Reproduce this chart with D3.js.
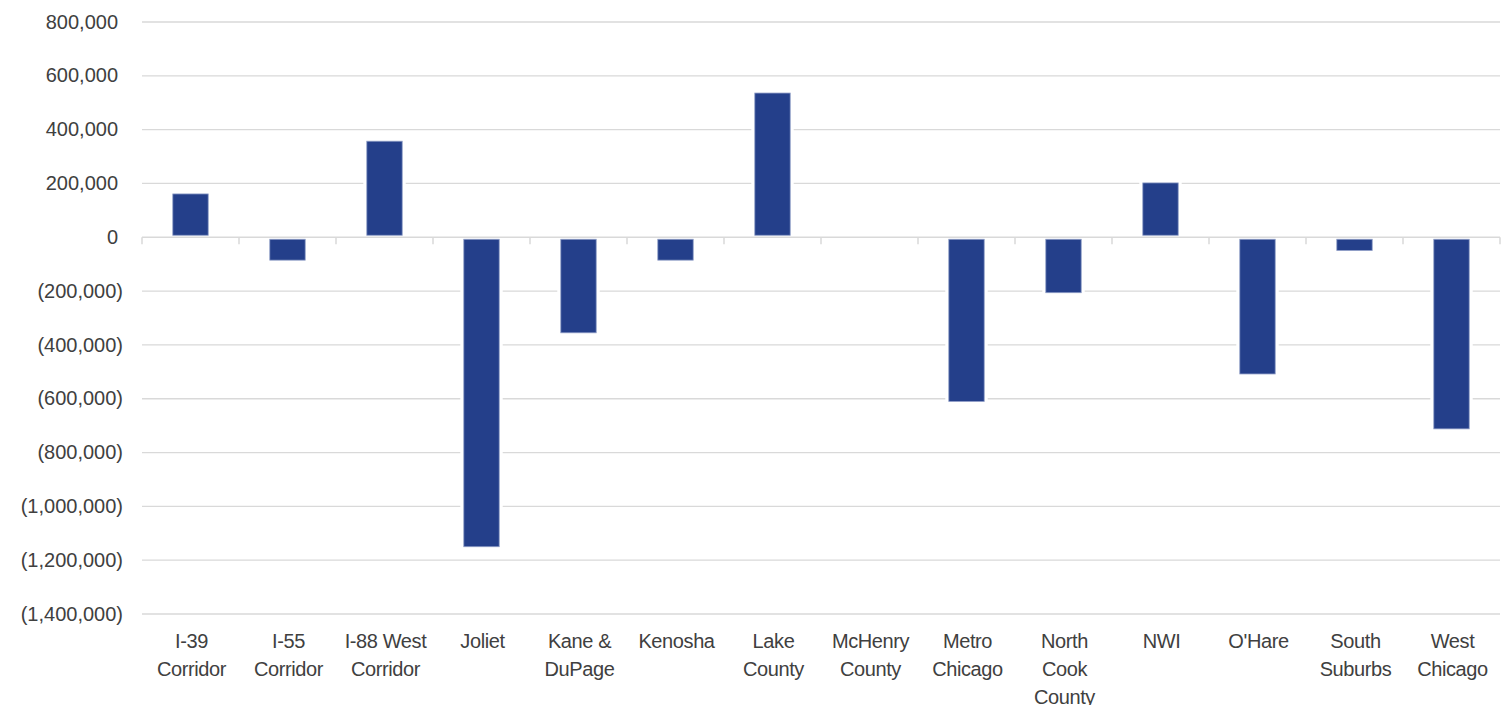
<!DOCTYPE html>
<html>
<head>
<meta charset="utf-8">
<script src="https://cdn.jsdelivr.net/npm/d3@7"></script>
<style>
  html, body { margin: 0; padding: 0; background: #fff; }
  svg { display: block; }
  text { font-family: "Liberation Sans", Arial, sans-serif; fill: #404040; }
</style>
</head>
<body>
<svg id="chart" width="1511" height="705"></svg>
<script>
// Net change by submarket
const categories = [
  "I-39 Corridor", "I-55 Corridor", "I-88 West Corridor", "Joliet",
  "Kane & DuPage", "Kenosha", "Lake County", "McHenry County",
  "Metro Chicago", "North Cook County", "NWI", "O'Hare",
  "South Suburbs", "West Chicago"
];
const values = [
  161000, -85000, 357000, -1150000,
  -355000, -85000, 536000, 0,
  -610000, -206000, 202000, -508000,
  -49000, -712000
];
const yTicks = [800000, 600000, 400000, 200000, 0, -200000, -400000,
  -600000, -800000, -1000000, -1200000, -1400000];

const svg = d3.select("#chart");
const margin = { left: 142, right: 11, top: 22, bottom: 91 };
const W = 1511, H = 705;

const x = d3.scaleBand()
  .domain(categories)
  .range([margin.left, W - margin.right])
  .paddingInner(0).paddingOuter(0);

const y = d3.scaleLinear()
  .domain([-1400000, 800000])
  .range([H - margin.bottom, margin.top]);

const barW = x.bandwidth() * 0.365;
const gridColor = "#d9d9d9";
const barColor = "#243f8a";

const fmt = d3.format(",");
const yLabel = v => v < 0 ? "(" + fmt(-v) + ")" : fmt(v);

// horizontal gridlines
svg.append("g")
  .selectAll("line")
  .data(yTicks.filter(v => v !== 0))
  .join("line")
  .attr("x1", margin.left).attr("x2", W - margin.right)
  .attr("y1", d => y(d)).attr("y2", d => y(d))
  .attr("stroke", gridColor).attr("stroke-width", 1.3);

// y-axis labels (accounting style: positives leave room for the closing parenthesis)
svg.append("g")
  .selectAll("text")
  .data(yTicks)
  .join("text")
  .attr("x", d => d < 0 ? 123 : 118)
  .attr("y", d => y(d))
  .attr("dy", "0.33em")
  .attr("text-anchor", "end")
  .style("font-size", "20px")
  .text(yLabel);

// white halo behind each bar so gridlines break around it
const barData = values.map((v, i) => ({ c: categories[i], v })).filter(d => d.v !== 0);
const barG = svg.append("g");
barG.selectAll("rect.halo")
  .data(barData)
  .join("rect")
  .attr("class", "halo")
  .attr("x", d => x(d.c) + (x.bandwidth() - barW) / 2 - 3.5)
  .attr("width", barW + 7)
  .attr("y", d => Math.min(y(d.v), y(0)) - (d.v > 0 ? 2 : 0))
  .attr("height", d => Math.abs(y(d.v) - y(0)) + 2)
  .attr("fill", "#fff");

barG.selectAll("rect.bar")
  .data(barData)
  .join("rect")
  .attr("class", "bar")
  .attr("x", d => x(d.c) + (x.bandwidth() - barW) / 2)
  .attr("width", barW)
  .attr("y", d => Math.min(y(d.v), y(0)) + (d.v > 0 ? 0 : 2))
  .attr("height", d => Math.abs(y(d.v) - y(0)) - 2)
  .attr("fill", barColor)
  .attr("stroke", "#8e9cc6")
  .attr("stroke-width", 0.8);

// zero baseline with category tick marks
const y0 = y(0);
svg.append("line")
  .attr("x1", margin.left).attr("x2", W - margin.right)
  .attr("y1", y0).attr("y2", y0)
  .attr("stroke", gridColor).attr("stroke-width", 1.5);

const bounds = categories.map(c => x(c)).concat([x.range()[1]]);
svg.append("g")
  .selectAll("line")
  .data(bounds)
  .join("line")
  .attr("x1", d => d).attr("x2", d => d)
  .attr("y1", y0).attr("y2", y0 + 7)
  .attr("stroke", gridColor).attr("stroke-width", 1.5);

// category labels, wrapped to the band width
const maxLine = 92;
const labelStyle = sel => sel.style("font-size", "20px").style("letter-spacing", "-0.4px");
const labelG = svg.append("g");
categories.forEach(c => {
  const t = labelG.append("text").attr("text-anchor", "middle").call(labelStyle);
  const cx = x(c) + x.bandwidth() / 2;
  const words = c.split(" ");
  const lines = [];
  let cur = [];
  const probe = labelG.append("text").call(labelStyle);
  words.forEach(w => {
    const test = cur.concat([w]).join(" ");
    probe.text(test);
    if (cur.length && probe.node().getComputedTextLength() > maxLine) {
      lines.push(cur.join(" "));
      cur = [w];
    } else {
      cur.push(w);
    }
  });
  if (cur.length) lines.push(cur.join(" "));
  probe.remove();
  lines.forEach((ln, i) => {
    t.append("tspan")
      .attr("x", cx + 1)
      .attr("y", 648 + i * 28)
      .text(ln);
  });
});
</script>
</body>
</html>
